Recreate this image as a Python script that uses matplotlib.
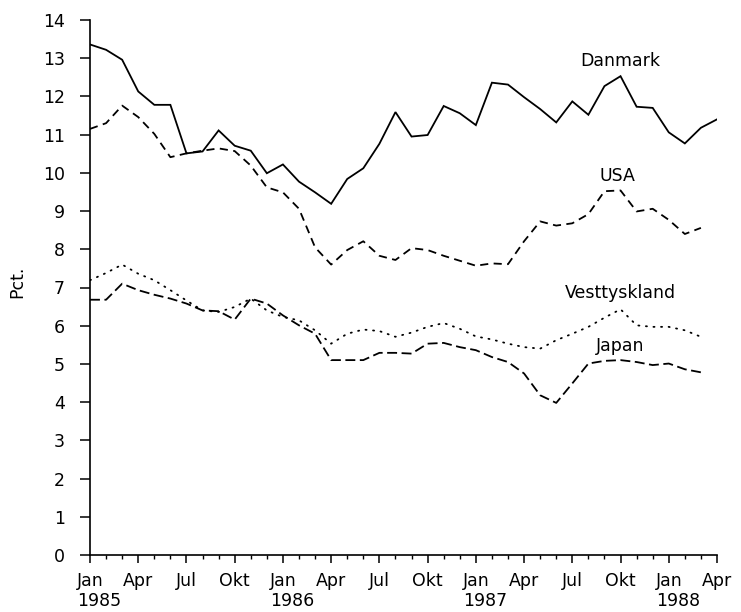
import matplotlib
matplotlib.use("Agg")
import matplotlib.pyplot as plt
import numpy as np

plt.rcParams['font.family'] = ['DejaVu Sans']

years = ["1985", "1986", "1987", "1988"]
tick_labels = ["Jan", "Apr", "Jul", "Okt"] * 3 + ["Jan", "Apr"]

danmark = [13.36, 13.22, 12.96, 12.13, 11.78, 11.78, 10.51, 10.56, 11.11, 10.71,
           10.58, 9.99, 10.22, 9.77, 9.49, 9.19, 9.84, 10.12, 10.76, 11.59,
           10.95, 10.99, 11.75, 11.56, 11.25, 12.36, 12.31, 11.98, 11.67, 11.32,
           11.87, 11.52, 12.27, 12.53, 11.73, 11.70, 11.06, 10.77, 11.18, 11.40]
usa = [11.15, 11.30, 11.76, 11.46, 11.02, 10.41, 10.51, 10.58, 10.64, 10.57,
       10.19, 9.62, 9.49, 9.06, 8.05, 7.60, 7.98, 8.21, 7.83, 7.72,
       8.03, 7.98, 7.83, 7.70, 7.57, 7.63, 7.61, 8.21, 8.73, 8.62,
       8.68, 8.92, 9.52, 9.54, 8.99, 9.06, 8.77, 8.40, 8.56]
vesttyskland = [7.19, 7.38, 7.60, 7.36, 7.19, 6.93, 6.66, 6.40, 6.36, 6.49,
                6.71, 6.40, 6.23, 6.14, 5.88, 5.53, 5.79, 5.90, 5.86, 5.71,
                5.82, 5.97, 6.07, 5.92, 5.72, 5.64, 5.53, 5.44, 5.40, 5.62,
                5.79, 5.97, 6.21, 6.43, 6.01, 5.97, 5.97, 5.88, 5.71]
japan = [6.68, 6.68, 7.10, 6.93, 6.81, 6.71, 6.58, 6.40, 6.38, 6.16,
         6.71, 6.58, 6.27, 6.01, 5.79, 5.10, 5.10, 5.10, 5.29, 5.29,
         5.27, 5.53, 5.55, 5.44, 5.36, 5.18, 5.05, 4.75, 4.18, 3.98,
         4.49, 5.01, 5.08, 5.10, 5.05, 4.97, 5.01, 4.86, 4.78]

fig = plt.figure(figsize=(7.41, 6.12), dpi=100)
ax = fig.add_axes([90 / 741, 1 - 555 / 612, 627 / 741, 535 / 612])

lw = 1.3
ax.plot(np.arange(len(danmark)), danmark, color='black', lw=lw, solid_joinstyle='miter')
ax.plot(np.arange(len(usa)), usa, color='black', lw=lw, dashes=(4.5, 3.0))
ax.plot(np.arange(len(japan)), japan, color='black', lw=lw, dashes=(5.5, 2.5))
ax.plot(np.arange(len(vesttyskland)), vesttyskland, color='black', lw=lw,
        dashes=(0.6, 3.6), dash_capstyle='round')

fs = 12.5
ax.text(33.0, 12.92, "Danmark", ha='center', va='center', fontsize=fs)
ax.text(32.8, 9.93, "USA", ha='center', va='center', fontsize=fs)
ax.text(33.0, 6.86, "Vesttyskland", ha='center', va='center', fontsize=fs)
ax.text(33.0, 5.46, "Japan", ha='center', va='center', fontsize=fs)

ax.set_xlim(0, 39)
ax.set_ylim(0, 14)
ax.spines['top'].set_visible(False)
ax.spines['right'].set_visible(False)
for s in ('left', 'bottom'):
    ax.spines[s].set_linewidth(1.2)

ax.set_yticks(np.arange(0, 15, 1))
ax.set_yticklabels([str(v) for v in range(15)], fontsize=fs)
ax.set_xticks(np.arange(0, 40, 3))
ax.set_xticklabels(tick_labels, fontsize=fs)
ax.set_xticks(np.arange(0, 40, 1), minor=True)
ax.tick_params(axis='y', direction='out', length=7, width=1.1, pad=11)
ax.tick_params(axis='x', which='major', direction='out', length=6, width=1.1, pad=6)
ax.tick_params(axis='x', which='minor', direction='out', length=3, width=1.0)

for k, yr in enumerate(years):
    ax.annotate(yr, xy=(12 * k + 0.6, 0), xycoords=('data', 'axes fraction'),
                xytext=(0, -33), textcoords='offset points',
                ha='center', va='center', fontsize=fs)

fig.text(17.5 / 741, 1 - 282 / 612, "Pct.", rotation=90, ha='center', va='center', fontsize=fs)

fig.savefig("out.png", dpi=100, facecolor='white')
